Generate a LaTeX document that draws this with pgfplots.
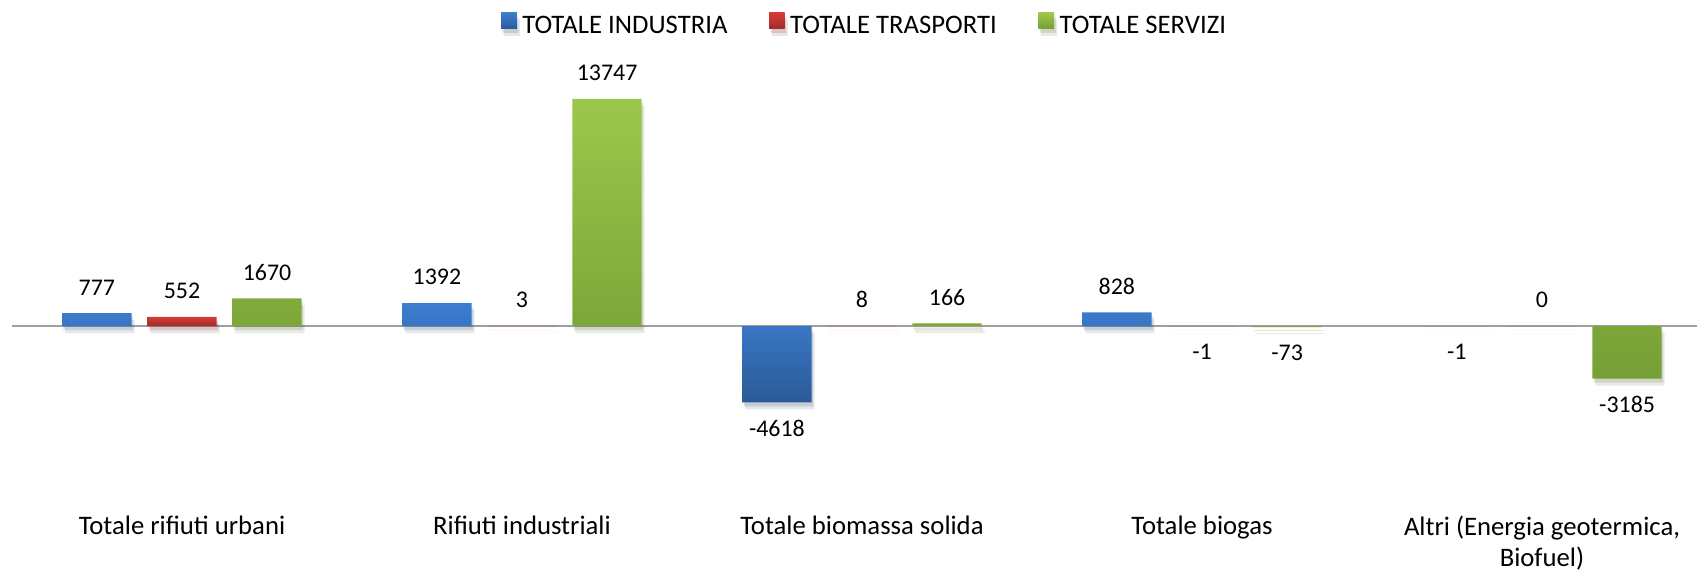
\documentclass[border=0pt]{standalone}
\usepackage{fontspec}
\setmainfont{Carlito}
\usepackage{pgfplots}
\usepackage{pgfplotstable}
\pgfplotsset{compat=1.18}
\definecolor{bluetop}{HTML}{3C7ED1}
\definecolor{bluebot}{HTML}{2C5A97}
\definecolor{redtop}{HTML}{D33C37}
\definecolor{redbot}{HTML}{A22C2A}
\definecolor{greentop}{HTML}{9DC74B}
\definecolor{greenbot}{HTML}{769F36}
\definecolor{zeroline}{HTML}{A0A0A0}

\pgfplotstableread{
x y
0 777
1 1392
2 -4618
3 828
4 -1
}\industria
\pgfplotstableread{
x y
0 552
1 3
2 8
3 -1
4 0
}\trasporti
\pgfplotstableread{
x y
0 1670
1 13747
2 166
3 -73
4 -3185
}\servizi

\begin{document}
\begin{tikzpicture}
\path[use as bounding box] (0,0) rectangle (169.7mm,57.1mm);
\begin{axis}[
  at={(1.2mm,11.28mm)}, anchor=south west,
  scale only axis, width=168.5mm, height=39.65mm,
  xmin=-0.5, xmax=4.456, ymin=-8000, ymax=16000,
  clip=false,
  ybar=1.58mm, bar width=6.93mm,
  separate axis lines,
  axis x line*=bottom, axis y line*=left,
  x axis line style={draw=none}, y axis line style={draw=none},
  ytick=\empty,
  xtick={0,1,2,3,4},
  xticklabels={{Totale rifiuti urbani},{Rifiuti industriali},{Totale biomassa solida},{Totale biogas},{Altri (Energia geotermica,\\Biofuel)}},
  xtick style={draw=none},
  major tick length=0pt,
  xticklabel style={font=\fontsize{7.6}{8.8}\selectfont, align=center, anchor=north, inner sep=0pt, yshift=-5.75mm},
  extra y ticks={0}, extra y tick labels={},
  extra y tick style={grid=major, major grid style={draw=zeroline, line width=0.2mm}, tick style={draw=none}},
  legend columns=3,
  legend style={at={(0.507,1)}, anchor=center, yshift=3.57mm, draw=none, fill=none,
    font=\fontsize{7.6}{9}\selectfont,
    nodes={inner xsep=0.55mm, inner ysep=0pt},
    /tikz/every even column/.append style={column sep=3.6mm}},
  legend image code/.code={\path[#1, draw=none] (0mm,-0.1mm) rectangle (1.57mm,1.47mm);},
  point meta=y,
  nodes near coords={\pgfmathprintnumber[fixed, precision=0, 1000 sep={}, assume math mode=true]{\pgfplotspointmeta}},
  nodes near coords align={vertical},
  every node near coord/.append style={font=\fontsize{6.8}{8}\selectfont, inner sep=0pt, outer sep=1.8mm, text=black},
  every axis plot/.append style={draw=none,
    preaction={fill=black, opacity=0.06, transform canvas={xshift=0.3mm, yshift=-0.7mm}},
    preaction={fill=black, opacity=0.08, transform canvas={xshift=0.15mm, yshift=-0.4mm}}},
]
\addplot[top color=bluetop, bottom color=bluebot] table[x=x, y=y] {\industria};
\addlegendentry{TOTALE INDUSTRIA}
\addplot[top color=redtop, bottom color=redbot] table[x=x, y=y] {\trasporti};
\addlegendentry{TOTALE TRASPORTI}
\addplot[top color=greentop, bottom color=greenbot] table[x=x, y=y] {\servizi};
\addlegendentry{TOTALE SERVIZI}
\end{axis}
\end{tikzpicture}
\end{document}
